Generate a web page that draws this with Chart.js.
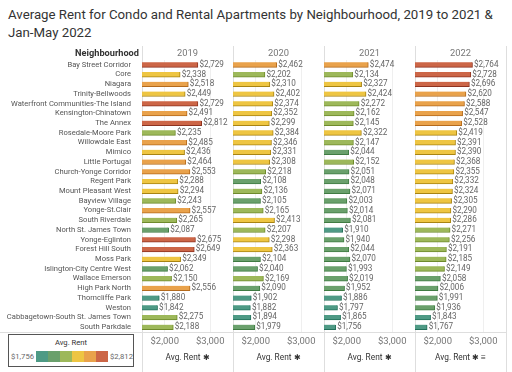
<!DOCTYPE html>
<html>
<head>
<meta charset="utf-8">
<script src="https://cdn.jsdelivr.net/npm/chart.js@4/dist/chart.umd.min.js"></script>
<style>
  html, body { margin: 0; padding: 0; background: #fff; }
  #wrap { position: relative; width: 512px; height: 372px; overflow: hidden; }
  #title {
    position: absolute; left: 8px; top: 6px; white-space: nowrap;
    font-family: Roboto, sans-serif; color: #333; line-height: 18px;
  }
  canvas { position: absolute; left: 0; top: 0; }
  #legend {
    position: absolute; left: 8px; top: 334px; width: 124px; height: 31px;
    border: 1.5px solid #555; background: #fff;
    font-family: Roboto, sans-serif; color: #666;
  }
  #legend .lt { text-align: center; color: #333; margin-top: 2px; height: 12px; line-height: 12px; }
  #legend .lrow { display: flex; align-items: center; margin-left: 2px; height: 14px; }
  #swatches { display: flex; margin: 0 2px; }
  #swatches div { width: 12px; height: 11px; }
</style>
</head>
<body>
<div id="wrap">
  <div id="title">Average Rent for Condo and Rental Apartments by Neighbourhood, 2019 to 2021 &amp;<br>Jan-May 2022</div>
  <canvas id="chart" width="512" height="372"></canvas>
  <div id="legend">
    <div class="lt">Avg. Rent</div>
    <div class="lrow"><span id="lmin"></span><div id="swatches"></div><span id="lmax"></span></div>
  </div>
</div>
<script>
const neighbourhoods = [
  'Bay Street Corridor', 'Core', 'Niagara', 'Trinity-Bellwoods',
  'Waterfront Communities-The Island', 'Kensington-Chinatown', 'The Annex',
  'Rosedale-Moore Park', 'Willowdale East', 'Mimico', 'Little Portugal',
  'Church-Yonge Corridor', 'Regent Park', 'Mount Pleasant West', 'Bayview Village',
  'Yonge-St.Clair', 'South Riverdale', 'North St. James Town', 'Yonge-Eglinton',
  'Forest Hill South', 'Moss Park', 'Islington-City Centre West', 'Wallace Emerson',
  'High Park North', 'Thorncliffe Park', 'Weston', 'Cabbagetown-South St. James Town',
  'South Parkdale'
];
const years = ['2019', '2020', '2021', '2022'];
const rent2019 = [2729, 2338, 2518, 2449, 2729, 2491, 2812, 2235, 2485, 2436, 2464, 2553, 2288, 2294,
  2243, 2557, 2265, 2087, 2675, 2649, 2349, 2062, 2150, 2556, 1880, 1842, 2275, 2188];
const rent2020 = [2462, 2202, 2310, 2402, 2374, 2352, 2299, 2384, 2346, 2331, 2308, 2218, 2108, 2136,
  2105, 2165, 2413, 2207, 2298, 2363, 2104, 2040, 2169, 2090, 1902, 1882, 1894, 1979];
const rent2021 = [2474, 2134, 2327, 2424, 2272, 2162, 2145, 2322, 2147, 2044, 2152, 2051, 2048, 2071,
  2003, 2014, 2081, 1910, 1940, 2044, 2070, 1993, 2019, 1952, 1886, 1797, 1865, 1756];
const rent2022 = [2764, 2728, 2696, 2620, 2588, 2547, 2528, 2419, 2391, 2390, 2368, 2355, 2332, 2324,
  2305, 2290, 2286, 2271, 2256, 2191, 2185, 2149, 2058, 2006, 1991, 1936, 1843, 1767];
const xTicks = [2000, 3000];
const legendMin = 1756;
const legendMax = 2812;

const FONT = 'Roboto, sans-serif';
const palette = ['#4e9a85', '#6aa06c', '#9db85a', '#eec542', '#e9a24b', '#cc6647'];
const edgeColors = ['#23705a', '#3f7b42', '#6e8a2c', '#a88412', '#b46a1c', '#8e3320'];
const rentSeries = [rent2019, rent2020, rent2021, rent2022];
const colIds = years.map(y => 'x' + y);

// the reference font is narrow, so pick sizes that give the same text widths
const measurer = document.createElement('canvas').getContext('2d');
function fitSize(text, width, weight) {
  measurer.font = (weight ? weight + ' ' : '') + '20px ' + FONT;
  return +(20 * width / measurer.measureText(text).width).toFixed(2);
}
const sizeRow = fitSize('Islington-City Centre West', 87);
const sizeValue = fitSize('$2,729', 24.5);
const sizeTick = fitSize('$2,000', 28.5);
const sizeYear = fitSize('2019', 21);
const sizeHead = fitSize('Neighbourhood', 64, 'bold');
const sizeAxis = fitSize('Avg. Rent', 35);
const sizeLegend = fitSize('$1,756', 23);
const sizeTitle = fitSize('Average Rent for Condo and Rental Apartments by Neighbourhood, 2019 to 2021 &', 485);

function stepOf(v) {
  const step = (legendMax - legendMin) / palette.length;
  return Math.min(palette.length - 1, Math.max(0, Math.ceil((v - legendMin) / step) - 1));
}
const money = v => '$' + v.toLocaleString('en-US');

document.getElementById('title').style.fontSize = sizeTitle + 'px';
document.getElementById('legend').style.fontSize = sizeLegend + 'px';
document.getElementById('lmin').textContent = money(legendMin);
document.getElementById('lmax').textContent = money(legendMax);
palette.forEach(c => {
  const d = document.createElement('div');
  d.style.background = c;
  document.getElementById('swatches').appendChild(d);
});

const frame = {
  id: 'frame',
  beforeDraw(chart) {
    const ctx = chart.ctx;
    const area = chart.chartArea;
    const cols = colIds.map(id => chart.scales[id]);
    ctx.save();
    ctx.strokeStyle = '#dedede';
    ctx.lineWidth = 1;
    const edges = [cols[0].left].concat(cols.map(s => s.right));
    edges.forEach(x => {
      const px = Math.round(x) + 0.5;
      ctx.beginPath(); ctx.moveTo(px, 46); ctx.lineTo(px, 372); ctx.stroke();
    });
    ctx.beginPath();
    ctx.moveTo(0, Math.round(area.bottom) + 0.5);
    ctx.lineTo(area.right, Math.round(area.bottom) + 0.5);
    ctx.stroke();

    ctx.textBaseline = 'middle';
    ctx.font = 'bold ' + sizeHead + 'px ' + FONT;
    ctx.fillStyle = '#333';
    ctx.textAlign = 'right';
    ctx.fillText('Neighbourhood', area.left - 3, 54);
    ctx.font = sizeYear + 'px ' + FONT;
    ctx.fillStyle = '#777';
    ctx.textAlign = 'center';
    cols.forEach((s, i) => ctx.fillText(years[i], (s.left + s.right) / 2, 54));
    ctx.restore();
  },
  afterDatasetsDraw(chart) {
    const ctx = chart.ctx;
    ctx.save();
    ctx.font = sizeValue + 'px ' + FONT;
    ctx.fillStyle = '#666';
    ctx.textAlign = 'left';
    ctx.textBaseline = 'middle';
    chart.data.datasets.forEach((ds, i) => {
      chart.getDatasetMeta(i).data.forEach((bar, j) => {
        ctx.fillText(money(ds.data[j]), bar.x + 1.5, bar.y);
      });
    });
    ctx.restore();
  }
};

const datasets = rentSeries.map((vals, i) => ({
  label: years[i],
  data: vals,
  xAxisID: colIds[i],
  yAxisID: 'y',
  grouped: false,
  barThickness: 5,
  backgroundColor: vals.map(v => palette[stepOf(v)]),
  borderColor: vals.map(v => edgeColors[stepOf(v)]),
  borderWidth: { top: 0, left: 0, right: 1, bottom: 1 },
  borderSkipped: false
}));

const scales = {
  y: {
    type: 'category',
    position: 'left',
    grid: { display: false },
    border: { display: false },
    ticks: { color: '#555', font: { size: sizeRow, family: FONT }, padding: 3, autoSkip: false },
    afterFit: s => { s.width = 142; }
  }
};
colIds.forEach((id, i) => {
  scales[id] = {
    type: 'linear',
    position: 'bottom',
    stack: 'cols',
    stackWeight: 1,
    min: 1500,
    max: 3500,
    afterBuildTicks: s => { s.ticks = xTicks.map(v => ({ value: v })); },
    afterFit: s => { s.height = 40; },
    grid: { color: '#efefef', drawTicks: false },
    border: { display: false },
    ticks: {
      color: '#777', font: { size: sizeTick, family: FONT }, padding: 4,
      maxRotation: 0, callback: v => money(v)
    },
    title: {
      display: true,
      text: i === 3 ? 'Avg. Rent \u2731 \u2261' : 'Avg. Rent \u2731',
      color: '#333',
      font: { size: sizeAxis, family: FONT },
      padding: { top: 2, bottom: 9 }
    }
  };
});

new Chart(document.getElementById('chart'), {
  type: 'bar',
  data: { labels: neighbourhoods, datasets },
  options: {
    indexAxis: 'y',
    responsive: false,
    animation: false,
    devicePixelRatio: 1,
    layout: { padding: { top: 60, right: 6, bottom: 0, left: 0 } },
    plugins: { legend: { display: false }, tooltip: { enabled: false } },
    scales
  },
  plugins: [frame]
});
</script>
</body>
</html>
